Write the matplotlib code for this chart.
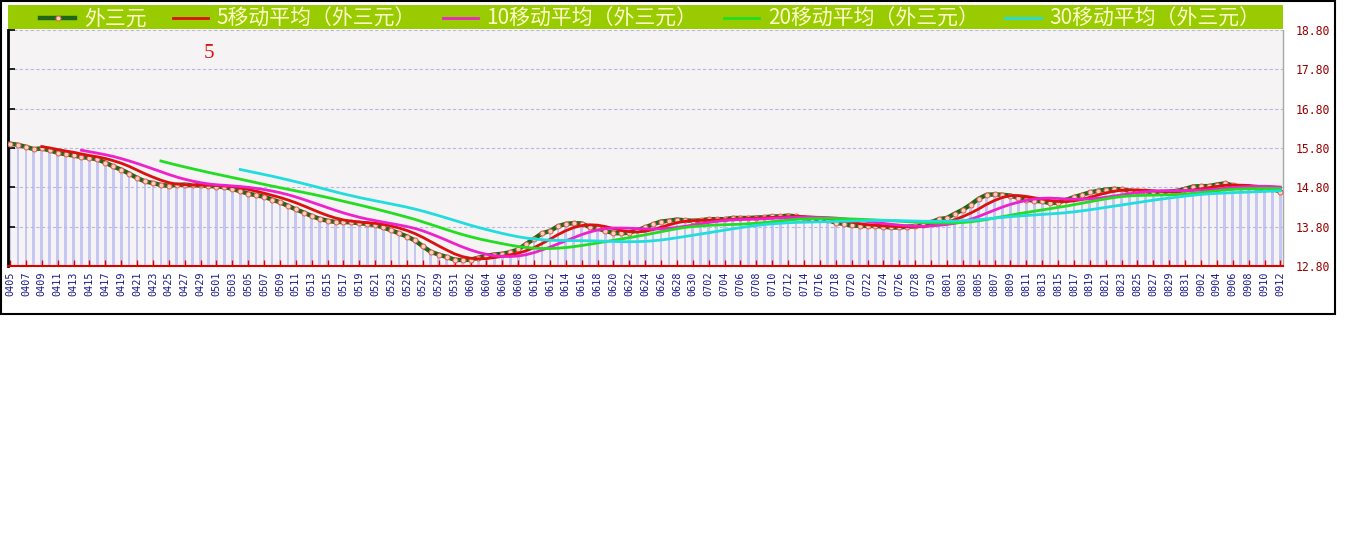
import matplotlib
matplotlib.use('Agg')
import matplotlib.pyplot as plt
from matplotlib.patches import Rectangle
from matplotlib.font_manager import FontProperties
import numpy as np
import pandas as pd

# ---- data (daily, 2009-04-05 .. 2009-09-12) ----
apr = [15.91, 15.88, 15.83, 15.77, 15.79, 15.74, 15.68, 15.64, 15.61, 15.57,
       15.55, 15.51, 15.43, 15.33, 15.25, 15.15, 15.04, 14.95, 14.91, 14.86,
       14.84, 14.86, 14.87, 14.85, 14.85, 14.84]
may = [14.82, 14.81, 14.76, 14.70, 14.64, 14.60, 14.56, 14.49, 14.42, 14.33,
       14.24, 14.16, 14.07, 14.00, 13.95, 13.92, 13.92, 13.91, 13.89, 13.87,
       13.84, 13.78, 13.71, 13.63, 13.55, 13.45, 13.30, 13.16, 13.09, 13.03,
       12.96]
jun = [12.95, 12.96, 13.01, 13.06, 13.09, 13.11, 13.15, 13.22, 13.36, 13.49,
       13.63, 13.69, 13.81, 13.87, 13.89, 13.88, 13.79, 13.76, 13.69, 13.64,
       13.63, 13.65, 13.71, 13.78, 13.86, 13.93, 13.95, 13.98, 13.96, 13.95]
jul = [13.96, 13.99, 13.99, 13.99, 14.02, 14.02, 14.02, 14.03, 14.04, 14.06,
       14.06, 14.08, 14.06, 14.02, 14.00, 14.00, 13.97, 13.90, 13.87, 13.83,
       13.82, 13.82, 13.82, 13.80, 13.78, 13.78, 13.80, 13.81, 13.84, 13.91,
       13.99]
aug = [14.02, 14.13, 14.23, 14.36, 14.51, 14.61, 14.62, 14.61, 14.59, 14.53,
       14.49, 14.46, 14.44, 14.40, 14.41, 14.48, 14.55, 14.61, 14.67, 14.71,
       14.74, 14.76, 14.75, 14.71, 14.70, 14.70, 14.68, 14.68, 14.69, 14.71,
       14.76]
sep = [14.82, 14.83, 14.83, 14.87, 14.90, 14.85, 14.82, 14.80, 14.78, 14.77,
       14.76, 14.69]

dates = pd.date_range('2009-04-05', '2009-09-12', freq='D').strftime('%m%d').tolist()
values = np.array(apr + may + jun + jul + aug + sep)
ma_windows = [5, 10, 20, 30]
series_name = '外三元'
ma_labels = [f'{n}移动平均（外三元）' for n in ma_windows]
y_ticks = [12.80, 13.80, 14.80, 15.80, 16.80, 17.80, 18.80]

# ---- figure ----
W, H = 1348, 541
fig = plt.figure(figsize=(W / 100, H / 100), dpi=100)
fig.patch.set_facecolor('white')
ax = fig.add_axes([7.5 / W, (H - 266) / H, (1283 - 7.5) / W, (266 - 30) / H])
ax.set_facecolor('#f5f3f3')

x = np.arange(len(values))
ax.bar(x, values - 12.8, bottom=12.8, width=0.34, color='#c6c6f2', zorder=0.4)

data_line, = ax.plot(x, values, color='#1f661a', lw=3.2, marker='o', ms=3.6,
                     mfc='#ffd0c0', mec='#e06050', mew=0.7, zorder=3)

ma_colors = ['#dd1010', '#ee22cc', '#22dd22', '#22dddd']
ma_lines = []
s = pd.Series(values)
for n, c in zip(ma_windows, ma_colors):
    ma = s.rolling(n).mean().to_numpy()
    ln, = ax.plot(x, ma, color=c, lw=2, zorder=4)
    ma_lines.append(ln)

ax.set_xlim(-0.315, 160.33)
ax.set_ylim(12.8, 18.8)

ax.set_xticks(x[::2])
ax.set_xticklabels(dates[::2], rotation=90, fontfamily='DejaVu Sans Mono',
                   fontsize=7.3, color='#1a1a8c')
ax.tick_params(axis='x', direction='in', length=4, color='#dd0000', width=1, pad=4)

ax.set_yticks(y_ticks)
ax.set_yticklabels([f'{v:.2f}' for v in y_ticks], fontfamily='DejaVu Sans Mono')
ax.tick_params(axis='y', direction='in', left=True, right=False, labelleft=False,
               labelright=True, length=5, width=1.2, color='black',
               labelcolor='#990000', labelsize=8.3, pad=9)

ax.grid(axis='y', color='#b8b8e8', ls=(0, (3, 2)), lw=0.8)
ax.set_axisbelow(True)

ax.spines['top'].set_visible(False)
ax.spines['left'].set_color('black')
ax.spines['left'].set_linewidth(2)
ax.spines['bottom'].set_color('#dd0000')
ax.spines['bottom'].set_linewidth(1.5)
ax.spines['right'].set_color('#a8a8a8')
ax.spines['right'].set_linewidth(1)

# outer frame
fig.add_artist(Rectangle((1 / W, 1 - 314 / H), 1334 / W, 313 / H, fill=False,
                         lw=1.5, ec='black', transform=fig.transFigure, zorder=0.5))
# legend bar
fig.add_artist(Rectangle((7.5 / W, 1 - 29 / H), (1283 - 7.5) / W, 24 / H,
                         fc='#99cc00', ec='none', transform=fig.transFigure, zorder=1))

fig.legend([data_line] + ma_lines, [series_name] + ma_labels,
           loc='center', bbox_to_anchor=(40 / W, 1 - 31 / H, (1260 - 40) / W, 24 / H),
           bbox_transform=fig.transFigure, ncol=5, mode='expand', frameon=False,
           prop=FontProperties(family=['Noto Sans CJK SC', 'DejaVu Sans'], size=15),
           labelcolor='#ffffcc', handlelength=1.7, handletextpad=0.4,
           borderaxespad=0, borderpad=0, numpoints=1)

fig.text(208.5 / W, 1 - 53 / H, '5', color='#dd1111', fontsize=15,
         family='Liberation Serif', ha='center', va='center')

fig.savefig('out.png', dpi=100)
